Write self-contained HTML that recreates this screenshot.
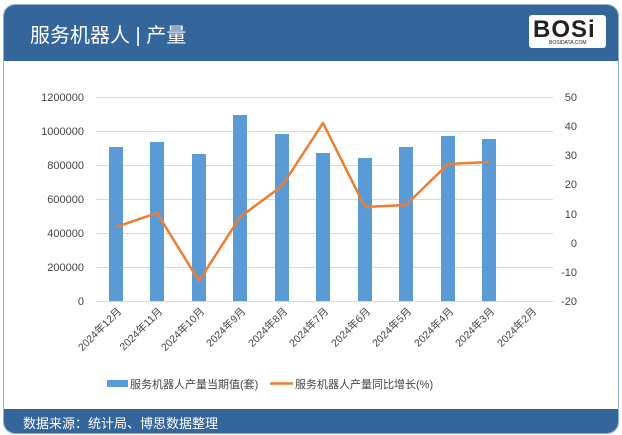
<!DOCTYPE html>
<html><head><meta charset="utf-8"><style>
body{margin:0;width:622px;height:435px;background:#fff;font-family:"Liberation Sans","Noto Sans CJK SC",sans-serif;overflow:hidden}
.card{position:absolute;left:3px;top:4px;width:614px;height:428px;border-radius:12px;border:1px solid #8fb0d4;overflow:hidden;background:#fff}
.hd{position:absolute;left:0;top:0;width:100%;height:56px;background:#34659b}
.ft{position:absolute;left:0;bottom:0;width:100%;height:24px;background:#34659b}
</style></head><body>
<div class="card">
<div class="hd"><div style="position:absolute;left:26px;top:14px;color:#fff;font-size:20px">服务机器人 | 产量</div>
<div style="position:absolute;left:525px;top:10px;width:77px;height:33px;background:#fff;border-radius:3px">
<div style="position:absolute;left:4px;top:1px;font:bold 24px 'Liberation Sans',sans-serif;color:#222;letter-spacing:1px">BOSi</div>
<div style="position:absolute;left:20px;top:25px;font-size:5px;color:#222">BOSIDATA.COM</div></div></div>
<div class="ft"><div style="position:absolute;left:19px;top:4px;color:#fff;font-size:13px">数据来源：统计局、博思数据整理</div></div>
</div>
<svg width="622" height="435" style="position:absolute;left:0;top:0" font-family="Liberation Sans, Noto Sans CJK SC, sans-serif" font-size="11" fill="#444">
<g stroke="#d9d9d9" stroke-width="1">
<line x1="96" x2="553" y1="97.5" y2="97.5"/><line x1="96" x2="553" y1="131.5" y2="131.5"/><line x1="96" x2="553" y1="165.5" y2="165.5"/><line x1="96" x2="553" y1="199.5" y2="199.5"/><line x1="96" x2="553" y1="233.5" y2="233.5"/><line x1="96" x2="553" y1="267.5" y2="267.5"/><line x1="96" x2="553" y1="301.5" y2="301.5"/>
</g>
<g text-anchor="end">
<text x="84" y="101">1200000</text><text x="84" y="135">1000000</text><text x="84" y="169">800000</text><text x="84" y="203">600000</text><text x="84" y="237">400000</text><text x="84" y="271">200000</text><text x="84" y="305">0</text>
</g>
<g text-anchor="end">
<text x="577" y="101">50</text><text x="577" y="130">40</text><text x="577" y="159">30</text><text x="577" y="188">20</text><text x="577" y="218">10</text><text x="577" y="247">0</text><text x="577" y="276">-10</text><text x="577" y="305">-20</text>
</g>
<g fill="#5b9bd5">
<rect x="109" y="147" width="14" height="154"/><rect x="150" y="142" width="14" height="159"/><rect x="192" y="154" width="14" height="147"/><rect x="233" y="115" width="14" height="186"/><rect x="275" y="134" width="14" height="167"/><rect x="316" y="153" width="14" height="148"/><rect x="358" y="158" width="14" height="143"/><rect x="399" y="147" width="14" height="154"/><rect x="441" y="136" width="14" height="165"/><rect x="482" y="139" width="14" height="162"/>
</g>
<polyline fill="none" stroke="#ed7d31" stroke-width="2.5" stroke-linejoin="round" points="116,227 157,213 199,281 240,217 282,186 323,123 365,207 406,205 448,164 489,162"/>
<g font-size="10.5" text-anchor="end">
<text transform="translate(122,312) rotate(-45)">2024年12月</text>
<text transform="translate(163,312) rotate(-45)">2024年11月</text>
<text transform="translate(205,312) rotate(-45)">2024年10月</text>
<text transform="translate(246,312) rotate(-45)">2024年9月</text>
<text transform="translate(288,312) rotate(-45)">2024年8月</text>
<text transform="translate(329,312) rotate(-45)">2024年7月</text>
<text transform="translate(371,312) rotate(-45)">2024年6月</text>
<text transform="translate(412,312) rotate(-45)">2024年5月</text>
<text transform="translate(454,312) rotate(-45)">2024年4月</text>
<text transform="translate(495,312) rotate(-45)">2024年3月</text>
<text transform="translate(537,312) rotate(-45)">2024年2月</text>
</g>
<rect x="107" y="380" width="21" height="7" fill="#5b9bd5"/>
<text x="130" y="388" font-size="11">服务机器人产量当期值(套)</text>
<line x1="270" x2="293" y1="383.5" y2="383.5" stroke="#ed7d31" stroke-width="2.5"/>
<text x="295" y="388" font-size="11">服务机器人产量同比增长(%)</text>
</svg>
</body></html>
